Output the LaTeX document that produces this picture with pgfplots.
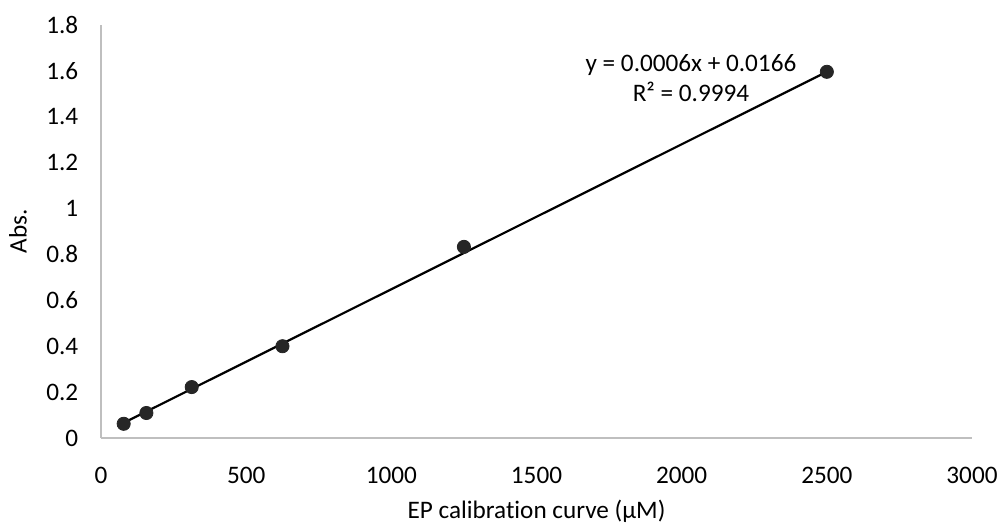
\documentclass[border=0pt]{standalone}
\usepackage{pgfplots}
\pgfplotsset{compat=1.18}
\usepackage{fontspec}
\setmainfont{Carlito}[Ligatures=NoCommon]
\definecolor{axgray}{HTML}{BFBFBF}
\definecolor{mk}{HTML}{262626}
\begin{document}
\fontsize{12.6pt}{15pt}\selectfont
\begin{tikzpicture}[x=0.5pt,y=0.5pt]
\path[use as bounding box] (-101,-89) rectangle (900,438);
\begin{axis}[
  scale only axis,
  width=435.5pt, height=206.5pt,
  xmin=0, xmax=3000, ymin=0, ymax=1.8,
  xtick={0,500,1000,1500,2000,2500,3000},
  ytick={0,0.2,0.4,0.6,0.8,1,1.2,1.4,1.6,1.8},
  yticklabels={0,0.2,0.4,0.6,0.8,1,1.2,1.4,1.6,1.8},
  xticklabels={0,500,1000,1500,2000,2500,3000},
  axis x line*=bottom, axis y line*=left,
  axis line style={axgray, line width=0.9pt, -},
  major tick length=0pt,
  tick style={draw=none},
  ticklabel style={font=\fontsize{12.6pt}{15pt}\selectfont, text=black},
  xticklabel style={yshift=-10pt},
  yticklabel style={xshift=-7pt},
  xlabel={EP calibration curve (μM)},
  ylabel={Abs.},
  label style={font=\fontsize{12.6pt}{15pt}\selectfont},
  xlabel style={at={(axis description cs:0.5,0)}, anchor=center, yshift=-36.5pt},
  ylabel style={at={(axis description cs:0,0.5)}, anchor=center, rotate=0, yshift=41.5pt},
  clip=false,
]
\addplot[black, line width=1.1pt, no marks] coordinates {(78.125,0.066) (2500,1.596)};
\addplot[only marks, mark=*, mark size=3.3pt, mark options={fill=mk, draw=mk}] coordinates {
(78.125,0.062) (156.25,0.109) (312.5,0.222) (625,0.40) (1250,0.833) (2500,1.596)};
\node[align=center, font=\fontsize{12.6pt}{15pt}\selectfont, inner sep=0pt] at (axis cs:2032,1.569) {y = 0.0006x + 0.0166\\R² = 0.9994};
\end{axis}
\end{tikzpicture}
\end{document}
